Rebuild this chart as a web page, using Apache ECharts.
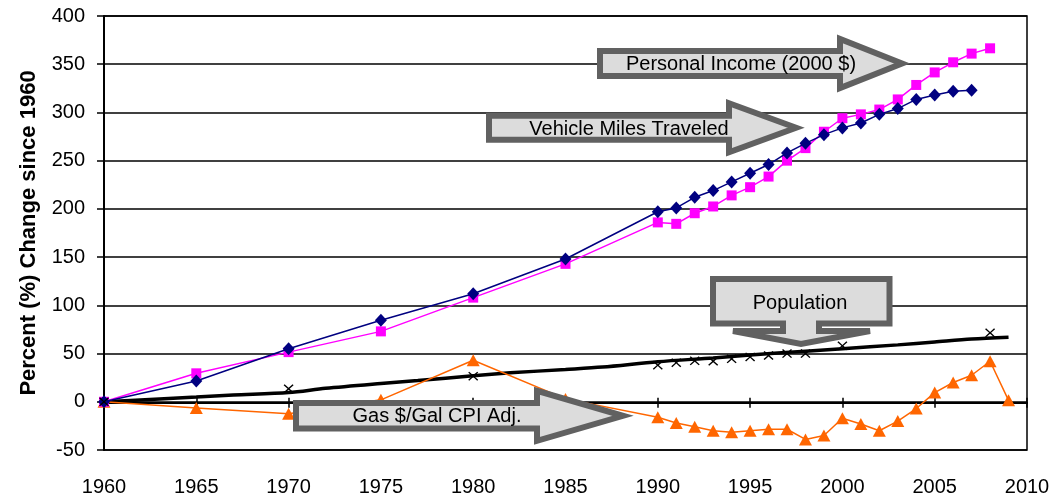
<!DOCTYPE html>
<html>
<head>
<meta charset="utf-8">
<script src="https://cdn.jsdelivr.net/npm/echarts@6/dist/echarts.min.js"></script>
<style>
html,body{margin:0;padding:0;background:#fff;}
#chart{width:1062px;height:497px;}
</style>
</head>
<body>
<div id="chart"></div>
<script>
// ---- data ----
const xTicks = [1960, 1965, 1970, 1975, 1980, 1985, 1990, 1995, 2000, 2005, 2010];
const yTicks = [-50, 0, 50, 100, 150, 200, 250, 300, 350, 400];

const vmtYears = [1960,1965,1970,1975,1980,1985,1990,1991,1992,1993,1994,1995,1996,1997,1998,1999,2000,2001,2002,2003,2004,2005,2006,2007];
const vmtValues = [0,21.5,55,84.5,112,148,197,201,212,219,228,237,246,258,268,277,284,289,298,304,313.5,318,322,323];

const piYears = [1960,1965,1970,1975,1980,1985,1990,1991,1992,1993,1994,1995,1996,1997,1998,1999,2000,2001,2002,2003,2004,2005,2006,2007,2008];
const piValues = [0,29.5,51.5,73,108,143,186,184.5,195.5,202.5,214,222.5,233.5,250,263,280,294,298,303,313.5,328.5,341.5,352,361,366.5];

const gasYears = [1960,1965,1970,1975,1980,1985,1990,1991,1992,1993,1994,1995,1996,1997,1998,1999,2000,2001,2002,2003,2004,2005,2006,2007,2008,2009];
const gasValues = [0,-6.5,-12.5,2,43,3,-16,-22,-26,-30,-31.5,-30,-28.5,-28.5,-39,-35,-17,-23,-30,-20,-7,9.5,20,27.5,42,1.5];

const popMarkYears = [1960,1970,1980,1990,1991,1992,1993,1994,1995,1996,1997,1998,2000,2008];
const popMarkValues = [0,13.5,26.5,38,40.5,42.5,42,44.5,46.5,48,50,50,58,71.5];

const popLineYears = [1960,1963,1965,1967,1970,1972,1975,1977,1980,1982,1985,1987,1990,1993,1995,1998,2000,2003,2005,2007,2009];
const popLineValues = [0,3,5,7,9.5,14,19,22,27,30,33.5,36,41.5,45.5,48.5,52.5,55,59,62,65,67];

const annotations = ['Personal Income (2000 $)', 'Vehicle Miles Traveled', 'Gas $/Gal CPI Adj.', 'Population'];
const yAxisTitle = 'Percent (%) Change since 1960';

// ---- build ----
const pairs = (xs, ys) => xs.map((x, i) => [x, ys[i]]);
const FONT = "'Liberation Sans', Arial, sans-serif";
const W = 1062, H = 497;
const gridRect = {left: 104, right: 35, top: 16, bottom: 46};
const xMin = xTicks[0], xMax = xTicks[xTicks.length - 1];
const yMin = yTicks[0], yMax = yTicks[yTicks.length - 1];
// pixel row of the value 0, so that the tick-only helper grids meet the zero line
const plotH = H - gridRect.top - gridRect.bottom;
const zeroY = gridRect.top + (yMax - 0) / (yMax - yMin) * plotH;

const chart = echarts.init(document.getElementById('chart'));

function rightArrow(x0, yc, sh, hx, hh, tip) {
  return [[x0, yc - sh], [hx, yc - sh], [hx, yc - hh], [tip, yc], [hx, yc + hh], [hx, yc + sh], [x0, yc + sh]];
}
const BORDER = '#616161', FILL = '#dcdcdc';
function arrowShape(points) {
  return {type: 'polygon', shape: {points: points}, style: {fill: FILL, stroke: BORDER, lineWidth: 6, lineJoin: 'miter'}, z: 100};
}
function label(text, x, y) {
  return {type: 'text', x: x, y: y, style: {text: text, fill: '#000', font: '20px ' + FONT, textAlign: 'center', textVerticalAlign: 'middle'}, z: 101};
}

const xMark = 'path://M0,1L1,0L5,4L9,0L10,1L6,5L10,9L9,10L5,6L1,10L0,9L4,5Z';
const tickAxis = (gi, pos) => ({type: 'value', gridIndex: gi, min: xMin, max: xMax, interval: 5, position: pos,
  axisLine: {show: true, onZero: false, lineStyle: {color: '#000', width: 2}},
  axisTick: {show: true, length: 5, lineStyle: {color: '#000', width: 1.5}},
  axisLabel: {show: false}, splitLine: {show: false}});

const option = {
  animation: false,
  backgroundColor: '#fff',
  grid: [
    Object.assign({show: true, borderColor: '#000', borderWidth: 1.5, backgroundColor: 'transparent'}, gridRect),
    {show: false, left: gridRect.left, right: gridRect.right, top: gridRect.top, bottom: H - zeroY},
    {show: false, left: gridRect.left, right: gridRect.right, top: zeroY, bottom: gridRect.bottom}
  ],
  xAxis: [
    {type: 'value', gridIndex: 0, min: xMin, max: xMax, interval: 5, position: 'bottom',
     axisLine: {show: false, onZero: false}, axisTick: {show: false}, splitLine: {show: false},
     axisLabel: {color: '#000', fontSize: 20, fontFamily: FONT, margin: 27, formatter: v => String(v)}},
    tickAxis(1, 'bottom'),
    tickAxis(2, 'top')
  ],
  yAxis: [
    {type: 'value', gridIndex: 0, min: yMin, max: yMax, interval: 50,
     axisLine: {show: true, onZero: false, lineStyle: {color: '#000', width: 2}},
     axisTick: {show: true, length: 7, lineStyle: {color: '#000', width: 1.5}},
     splitLine: {show: true, lineStyle: {color: '#000', width: 1.5}},
     axisLabel: {color: '#000', fontSize: 20, fontFamily: FONT, margin: 19},
     name: yAxisTitle, nameLocation: 'middle', nameRotate: 90, nameGap: 64,
     nameTextStyle: {color: '#000', fontSize: 22, fontWeight: 'bold', fontFamily: FONT}},
    {type: 'value', gridIndex: 1, min: 0, max: yMax, show: false},
    {type: 'value', gridIndex: 2, min: yMin, max: 0, show: false}
  ],
  series: [
    {name: 'Population trend', type: 'line', data: pairs(popLineYears, popLineValues), smooth: 0.3,
     showSymbol: false, lineStyle: {color: '#000', width: 3.5}, z: 3},
    {name: 'Gas', type: 'line', data: pairs(gasYears, gasValues), symbol: 'triangle', symbolSize: [13, 12],
     itemStyle: {color: '#ff6600'}, lineStyle: {color: '#ff6600', width: 1.5}, z: 4},
    {name: 'Personal Income', type: 'line', data: pairs(piYears, piValues), symbol: 'rect', symbolSize: 10,
     itemStyle: {color: '#ff00ff'}, lineStyle: {color: '#ff00ff', width: 1.5}, z: 5},
    {name: 'VMT', type: 'line', data: pairs(vmtYears, vmtValues), symbol: 'diamond', symbolSize: [12, 13],
     itemStyle: {color: '#000080'}, lineStyle: {color: '#000080', width: 1.5}, z: 6},
    {name: 'Population', type: 'scatter', data: pairs(popMarkYears, popMarkValues), symbol: xMark, symbolSize: [10, 9],
     itemStyle: {color: '#000', opacity: 1}, z: 7}
  ],
  graphic: [
    arrowShape(rightArrow(600, 63.5, 12.5, 840, 24.5, 902)),
    label(annotations[0], 741, 64),
    arrowShape(rightArrow(489, 127.7, 12, 729, 24.5, 796)),
    label(annotations[1], 629, 129),
    arrowShape(rightArrow(296, 415.8, 12.8, 537, 25, 623)),
    label(annotations[2], 437, 416),
    arrowShape([[713, 279], [889.5, 279], [889.5, 323.5], [819, 323.5], [819, 331], [870, 331], [801, 344], [733, 331], [783, 331], [783, 323.5], [713, 323.5]]),
    label(annotations[3], 800, 303)
  ]
};
chart.setOption(option);
</script>
</body>
</html>
